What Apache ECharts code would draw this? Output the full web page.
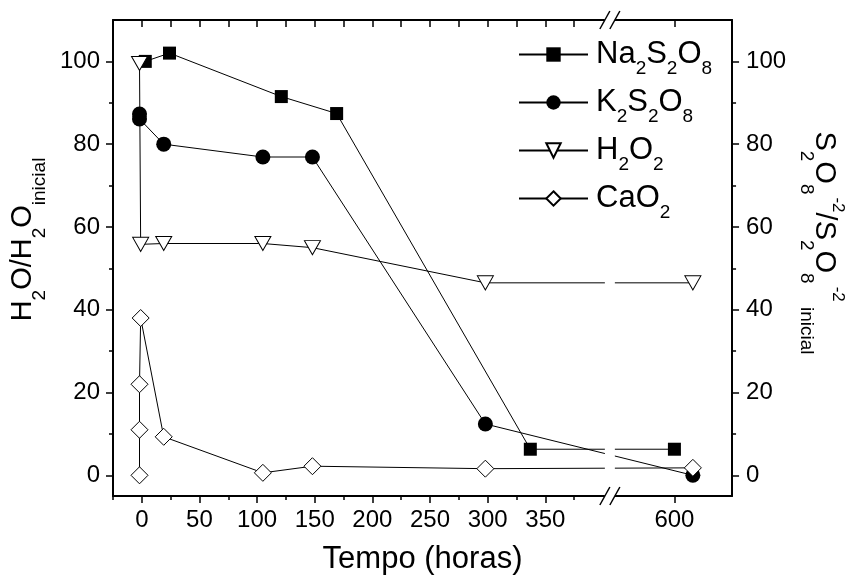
<!DOCTYPE html>
<html>
<head>
<meta charset="utf-8">
<script src="https://cdn.jsdelivr.net/npm/echarts@6/dist/echarts.min.js"></script>
<style>
    html, body { margin: 0; padding: 0; background: #fff; }
    #chart { width: 854px; height: 586px; }
</style>
</head>
<body>
<div id="chart"></div>
<script>
// dados (tempo em horas, razao em %)
const naHours = [3, 24, 121, 169, 337, 600]
const naValues = [100, 102, 91.5, 87.4, 6.3, 6.3]

const kHours = [-2, -2, 19, 105, 148, 298, 616]
const kValues = [87.3, 86.1, 80, 76.9, 76.9, 12.4, 0]

const h2o2Hours = [-2, -1, 19, 105, 148, 298, 616]
const h2o2Values = [99.5, 55.8, 56, 56, 55, 46.5, 46.5]

const cao2Hours = [-2, -2, -2, -1, 19, 105, 148, 298, 616]
const cao2Values = [0, 11, 22, 38, 9.3, 0.6, 2.2, 1.6, 1.8]

// eixo x quebrado: horas depois da quebra sao deslocadas
const BREAK_FROM = 400
const BREAK_SHIFT = 138

const xMajorTicks = [0, 50, 100, 150, 200, 250, 300, 350, 600]
const xMinorTicks = [-25, 25, 75, 125, 175, 225, 275, 325, 375]
const xTopTicks = [0, 25, 50, 75, 100, 125, 150, 175, 200, 225, 250, 275, 300, 325, 350, 375, 600]
const yMajorTicks = [0, 20, 40, 60, 80, 100]
const yMinorTicks = [10, 30, 50, 70, 90]

const FONT = "'Liberation Sans', Arial, sans-serif"

function toAxis(h) {
    return h > BREAK_FROM ? h - BREAK_SHIFT : h
}
function fromAxis(v) {
    return v > BREAK_FROM ? Math.round(v + BREAK_SHIFT) : Math.round(v)
}
function pairs(hours, values) {
    let tempArray = []
    for (let i = 0; i < hours.length; i++) {
        tempArray.push([toAxis(hours[i]), values[i]])
    }
    return tempArray
}

const X_MIN = -25
const X_MAX = 512
const Y_MIN = -5
const Y_MAX = 110

const legendText = {
    'Na2S2O8': '{m|Na}{s|2}{m|S}{s|2}{m|O}{s|8}',
    'K2S2O8': '{m|K}{s|2}{m|S}{s|2}{m|O}{s|8}',
    'H2O2': '{m|H}{s|2}{m|O}{s|2}',
    'CaO2': '{m|CaO}{s|2}'
}

const axisLineStyle = { color: '#000', width: 2 }

function xAxisBase(extra) {
    return Object.assign({
        type: 'value',
        min: X_MIN,
        max: X_MAX,
        splitLine: { show: false },
        axisLine: { show: false, onZero: false },
        axisLabel: { show: false },
        axisTick: { show: false }
    }, extra)
}
function yAxisBase(extra) {
    return Object.assign({
        type: 'value',
        min: Y_MIN,
        max: Y_MAX,
        splitLine: { show: false },
        axisLine: { show: false, onZero: false },
        axisLabel: { show: false },
        axisTick: { show: false }
    }, extra)
}

const tickLabel = { fontFamily: FONT, fontSize: 24, color: '#000' }

let chart = echarts.init(document.getElementById('chart'))
let option = {
    animation: false,
    backgroundColor: '#fff',
    grid: { left: 113, right: 117, top: 20, bottom: 90 },
    xAxis: [
        xAxisBase({
            position: 'bottom',
            name: 'Tempo (horas)',
            nameLocation: 'middle',
            nameGap: 48,
            nameTextStyle: { fontFamily: FONT, fontSize: 31, color: '#000' },
            axisLine: { show: true, onZero: false, lineStyle: axisLineStyle },
            axisTick: { show: true, length: 7, lineStyle: { color: '#000', width: 1.5 }, customValues: xMajorTicks.map(toAxis) },
            axisLabel: Object.assign({ show: true, margin: 12, customValues: xMajorTicks.map(toAxis), formatter: v => String(fromAxis(v)) }, tickLabel)
        }),
        xAxisBase({
            position: 'top',
            axisLine: { show: true, onZero: false, lineStyle: axisLineStyle },
            axisTick: { show: true, inside: true, length: 7, lineStyle: { color: '#000', width: 1.5 }, customValues: xTopTicks.map(toAxis) }
        }),
        xAxisBase({
            position: 'bottom',
            axisTick: { show: true, length: 4, lineStyle: { color: '#000', width: 1.5 }, customValues: xMinorTicks }
        })
    ],
    yAxis: [
        yAxisBase({
            position: 'left',
            name: '{m|H}{s|2}{m|O/H}{s|2}{m|O}{s|inicial}',
            nameLocation: 'middle',
            nameRotate: 90,
            nameGap: 63,
            nameTextStyle: {
                fontFamily: FONT, color: '#000', padding: [0, 0, 0, 37],
                rich: {
                    m: { fontFamily: FONT, fontSize: 29, lineHeight: 29, verticalAlign: 'top', color: '#000' },
                    s: { fontFamily: FONT, fontSize: 19, lineHeight: 19, padding: [22, 0, 0, 0], verticalAlign: 'top', color: '#000' }
                }
            },
            axisLine: { show: true, onZero: false, lineStyle: axisLineStyle },
            axisTick: { show: true, length: 7, lineStyle: { color: '#000', width: 1.5 }, customValues: yMajorTicks },
            axisLabel: Object.assign({ show: true, margin: 13, customValues: yMajorTicks }, tickLabel)
        }),
        yAxisBase({
            position: 'right',
            name: '{m|S}{s|2}{m|O}{s|8}{p|-2}{m|/S}{s|2}{m|O}{s|8}{p|-2}{s| inicial}',
            nameLocation: 'middle',
            nameRotate: -90,
            nameGap: 76,
            nameTextStyle: {
                fontFamily: FONT, color: '#000', padding: [0, 30, 0, 0],
                rich: {
                    m: { fontFamily: FONT, fontSize: 29, lineHeight: 29, padding: [8, 0, 0, 0], verticalAlign: 'top', color: '#000' },
                    s: { fontFamily: FONT, fontSize: 19, lineHeight: 19, padding: [30, 0, 0, 0], verticalAlign: 'top', color: '#000' },
                    p: { fontFamily: FONT, fontSize: 17, lineHeight: 17, padding: [0, 0, 0, 3], verticalAlign: 'top', color: '#000' }
                }
            },
            axisLine: { show: true, onZero: false, lineStyle: axisLineStyle },
            axisTick: { show: true, length: 7, lineStyle: { color: '#000', width: 1.5 }, customValues: yMajorTicks },
            axisLabel: Object.assign({ show: true, margin: 14, customValues: yMajorTicks }, tickLabel)
        }),
        yAxisBase({
            position: 'left',
            axisTick: { show: true, length: 4, lineStyle: { color: '#000', width: 1.5 }, customValues: yMinorTicks }
        }),
        yAxisBase({
            position: 'right',
            axisTick: { show: true, length: 4, lineStyle: { color: '#000', width: 1.5 }, customValues: yMinorTicks }
        })
    ],
    legend: {
        orient: 'vertical',
        left: 518,
        top: 39,
        z: 200,
        padding: 0,
        itemWidth: 69,
        itemHeight: 18,
        itemGap: 9,
        selectedMode: false,
        formatter: name => legendText[name],
        textStyle: {
            fontFamily: FONT, color: '#000', padding: [0, 0, 0, 3],
            rich: {
                m: { fontFamily: FONT, fontSize: 31, lineHeight: 31, verticalAlign: 'top', color: '#000' },
                s: { fontFamily: FONT, fontSize: 19, lineHeight: 19, padding: [20, 0, 0, 0], verticalAlign: 'top', color: '#000' }
            }
        },
        data: ['Na2S2O8', 'K2S2O8', 'H2O2', 'CaO2']
    },
    series: [
        {
            name: 'Na2S2O8',
            type: 'line',
            data: pairs(naHours, naValues),
            symbol: 'rect',
            symbolSize: 13,
            itemStyle: { color: '#000' },
            lineStyle: { color: '#000', width: 1 }
        },
        {
            name: 'K2S2O8',
            type: 'line',
            data: pairs(kHours, kValues),
            symbol: 'circle',
            symbolSize: 15,
            itemStyle: { color: '#000' },
            lineStyle: { color: '#000', width: 1 }
        },
        {
            name: 'H2O2',
            type: 'line',
            data: pairs(h2o2Hours, h2o2Values),
            symbol: 'path://M0,0 L16,0 L8,14 Z',
            symbolSize: [16, 14],
            showAllSymbol: true,
            itemStyle: { color: '#fff', borderColor: '#000', borderWidth: 1 },
            lineStyle: { color: '#000', width: 1 }
        },
        {
            name: 'CaO2',
            type: 'line',
            data: pairs(cao2Hours, cao2Values),
            symbol: 'diamond',
            symbolSize: 17,
            showAllSymbol: true,
            itemStyle: { color: '#fff', borderColor: '#000', borderWidth: 1 },
            lineStyle: { color: '#000', width: 1 }
        }
    ]
}
option && chart.setOption(option)

// marca da quebra do eixo (//) e corte das linhas
function drawBreak() {
    let cx = chart.convertToPixel({ xAxisIndex: 0 }, BREAK_FROM + 6)
    let yTop = chart.convertToPixel({ yAxisIndex: 0 }, Y_MAX)
    let yBot = chart.convertToPixel({ yAxisIndex: 0 }, Y_MIN)
    let elements = [{
        type: 'rect', z: 100,
        shape: { x: cx - 5, y: yTop - 6, width: 10, height: yBot - yTop + 12 },
        style: { fill: '#fff' }
    }]
    for (const y of [yTop, yBot]) {
        for (const dx of [-10, 0]) {
            elements.push({
                type: 'line', z: 101,
                shape: { x1: cx + dx, y1: y + 9, x2: cx + dx + 10, y2: y - 9 },
                style: { stroke: '#000', lineWidth: 1.5 }
            })
        }
    }
    chart.setOption({ graphic: elements })
}
drawBreak()
</script>
</body>
</html>
